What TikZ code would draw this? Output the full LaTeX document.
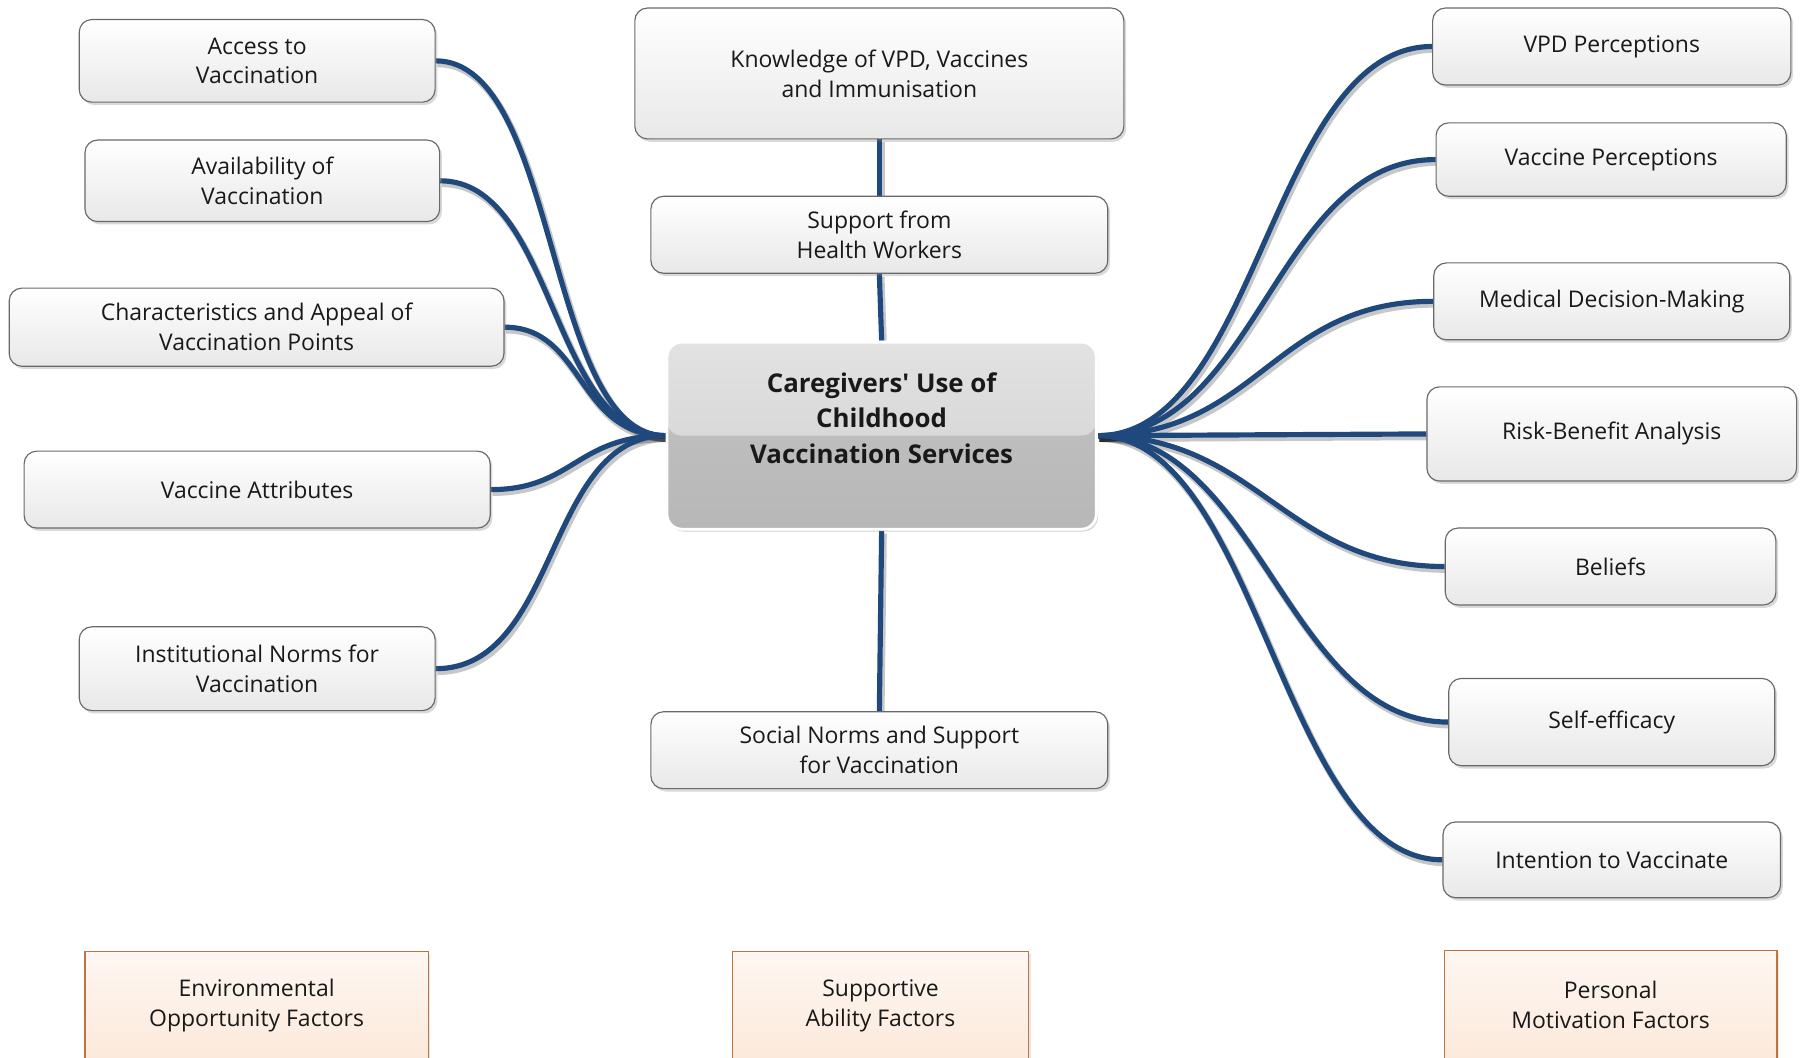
\documentclass[tikz,border=0pt]{standalone}
\usepackage{fontspec}
\setmainfont{Open Sans}
\newfontfamily\corefont{Open Sans}[Ligatures=TeXOff]
\usetikzlibrary{shadows}
\definecolor{linkblue}{RGB}{31,73,125}
\definecolor{boxborder}{RGB}{105,105,105}
\definecolor{orangeborder}{RGB}{190,115,65}
\definecolor{peachtop}{RGB}{254,247,242}
\definecolor{peachbot}{RGB}{252,233,219}
\definecolor{ctop}{RGB}{226,226,226}
\definecolor{cmid}{RGB}{208,208,208}
\definecolor{cmidb}{RGB}{196,196,196}
\definecolor{cbot}{RGB}{183,183,183}
\pgfdeclarelayer{bg}
\pgfsetlayers{bg,main}
\begin{document}
\begin{tikzpicture}[x=1pt,y=-1pt,
  every node/.style={font=\fontsize{20}{26}\selectfont, text=black!90, align=center, inner sep=0pt},
  factor/.style={draw=boxborder, line width=1pt, rounded corners=11pt,
    top color=white, bottom color=black!9,
    drop shadow={shadow xshift=2pt, shadow yshift=-2.5pt, opacity=0.3}},
  group/.style={draw=orangeborder, line width=1pt,
    top color=peachtop, bottom color=peachbot, minimum height=94pt,
    drop shadow={shadow xshift=2pt, shadow yshift=-2pt, opacity=0.2}},
  core/.style={draw=white, line width=2.5pt, rounded corners=13pt,
    top color=cmidb, bottom color=cbot,
    font=\corefont\fontsize{22.5}{31}\selectfont\bfseries,
    drop shadow={shadow xshift=1.5pt, shadow yshift=-2pt, opacity=0.35},
    path picture={\shade[top color=ctop, bottom color=cmid]
      (path picture bounding box.north west) rectangle (path picture bounding box.east);}},
  link/.style={draw=linkblue, line width=4.5pt,
    preaction={draw=black, opacity=0.22, line width=6pt,
      transform canvas={xshift=1.5pt, yshift=-2.5pt}}}
]
\useasboundingbox (0,0) rectangle (1568,921);
\clip (0,0) rectangle (1568,921);

% left column
\node[factor, minimum width=310pt, minimum height=72pt] (access) at (224,53) {Access to\\Vaccination};
\node[factor, minimum width=309pt, minimum height=71pt] (avail) at (228.5,157.5) {Availability of\\Vaccination};
\node[factor, minimum width=431pt, minimum height=68pt] (charac) at (223.5,285) {Characteristics and Appeal of\\Vaccination Points};
\node[factor, minimum width=406pt, minimum height=67pt] (vattr) at (224,426.5) {Vaccine Attributes};
\node[factor, minimum width=310pt, minimum height=73pt] (inst) at (224,582.5) {Institutional Norms for\\Vaccination};

% middle column
\node[factor, minimum width=426pt, minimum height=114pt] (know) at (766,64) {Knowledge of VPD, Vaccines\\and Immunisation};
\node[factor, minimum width=398pt, minimum height=67pt] (support) at (766,204.5) {Support from\\Health Workers};
\node[core, minimum width=374pt, minimum height=163pt] (core) at (768,379.5) {Caregivers' Use of\\Childhood\\Vaccination Services\\\phantom{X}};
\node[factor, minimum width=398pt, minimum height=67pt] (social) at (766,653.5) {Social Norms and Support\\for Vaccination};

% right column
\node[factor, minimum width=312pt, minimum height=67pt] (vpd) at (1404,40.5) {VPD Perceptions};
\node[factor, minimum width=305pt, minimum height=64pt] (vperc) at (1403.5,139) {Vaccine Perceptions};
\node[factor, minimum width=310pt, minimum height=67pt] (medic) at (1404,262.5) {Medical Decision-Making};
\node[factor, minimum width=322pt, minimum height=82pt] (risk) at (1404,378) {Risk-Benefit Analysis};
\node[factor, minimum width=288pt, minimum height=67pt] (beliefs) at (1403,493.5) {Beliefs};
\node[factor, minimum width=284pt, minimum height=76pt] (selfeff) at (1404,629) {Self-efficacy};
\node[factor, minimum width=294pt, minimum height=66pt] (intent) at (1404,749) {Intention to Vaccinate};

% bottom group labels
\node[group, minimum width=299pt] (env) at (223.5,876) {Environmental\\Opportunity Factors};
\node[group, minimum width=258pt] (supp) at (767,876) {Supportive\\Ability Factors};
\node[group, minimum width=290pt] (pers) at (1403,875) {Personal\\Motivation Factors};

\begin{pgfonlayer}{bg}
  \draw[link] (core.north) -- (support.south);
  \draw[link] (support.north) -- (know.south);
  \draw[link] (core.south) -- (social.north);
  \draw[link] (access.east) .. controls +(108,0) and +(-105,0) .. (core.west);
  \draw[link] (avail.east) .. controls +(100,0) and +(-100,0) .. (core.west);
  \draw[link] (charac.east) .. controls +(70,0) and +(-78,0) .. (core.west);
  \draw[link] (vattr.east) .. controls +(72,0) and +(-78,0) .. (core.west);
  \draw[link] (inst.east) .. controls +(108,0) and +(-105,0) .. (core.west);
  \draw[link] (core.east) .. controls +(140,0) and +(-140,0) .. (vpd.west);
  \draw[link] (core.east) .. controls +(140,0) and +(-140,0) .. (vperc.west);
  \draw[link] (core.east) .. controls +(140,0) and +(-140,0) .. (medic.west);
  \draw[link] (core.east) -- (risk.west);
  \draw[link] (core.east) .. controls +(140,0) and +(-140,0) .. (beliefs.west);
  \draw[link] (core.east) .. controls +(140,0) and +(-140,0) .. (selfeff.west);
  \draw[link] (core.east) .. controls +(140,0) and +(-140,0) .. (intent.west);
\end{pgfonlayer}
\end{tikzpicture}
\end{document}
